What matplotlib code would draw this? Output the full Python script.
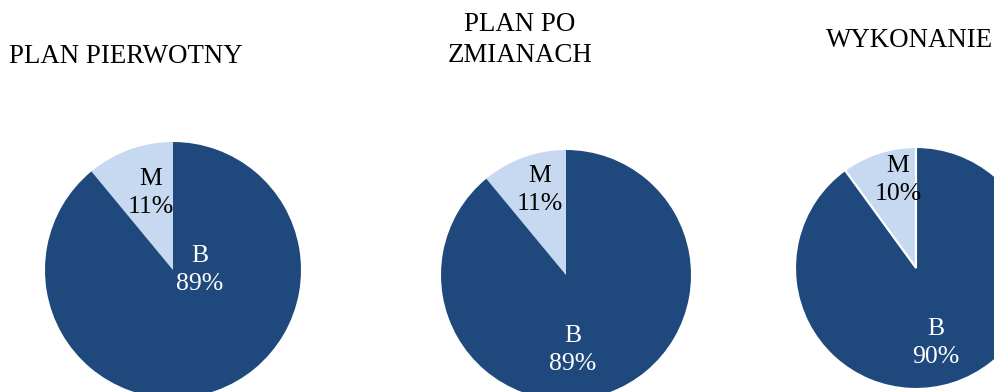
import matplotlib
matplotlib.use("Agg")
import matplotlib.pyplot as plt

# udzial kategorii M / B w trzech wariantach
titles = ["PLAN PIERWOTNY", "PLAN PO\nZMIANACH", "WYKONANIE"]
categories = ["M", "B"]
shares = [
    [11, 89],
    [11, 89],
    [10, 90],
]

colors = ["#C6D9F0", "#1F497D"]
label_colors = ["black", "white"]

W, H = 995, 392
# polozenie kol (px, os y w gore), promien, tytul, przesuniecia etykiet
centers = [(173, H - 270), (566, H - 275), (916, H - 268)]
radii = [128, 125, 121]
title_pos = [(126, H - 56), (520, H - 40), (910, H - 40)]
label_offsets = [
    [(-22, 77), (27, 0)],
    [(-26, 85), (7, -75)],
    [(-18, 88), (20, -75)],
]
edge_widths = [0, 0, 1.5]

plt.rcParams["font.family"] = ["Liberation Serif", "DejaVu Serif"]

fig = plt.figure(figsize=(W / 100, H / 100), dpi=100)
ax = fig.add_axes([0, 0, 1, 1])

for i in range(3):
    cx, cy = centers[i]
    ax.pie(shares[i], colors=colors, startangle=90, counterclock=True,
           center=(cx, cy), radius=radii[i], frame=True,
           wedgeprops=dict(edgecolor="white", linewidth=edge_widths[i]))
    for j, cat in enumerate(categories):
        dx, dy = label_offsets[i][j]
        ax.text(cx + dx, cy + dy, f"{cat}\n{shares[i][j]}%", ha="center",
                va="center", fontsize=18.5, color=label_colors[j],
                linespacing=1.4)
    tx, ty = title_pos[i]
    ax.text(tx, ty, titles[i], ha="center", va="center", fontsize=19.4,
            linespacing=1.35)

ax.set_xlim(0, W)
ax.set_ylim(0, H)
ax.set_aspect("equal")
ax.axis("off")

fig.savefig("out.png", dpi=100)
